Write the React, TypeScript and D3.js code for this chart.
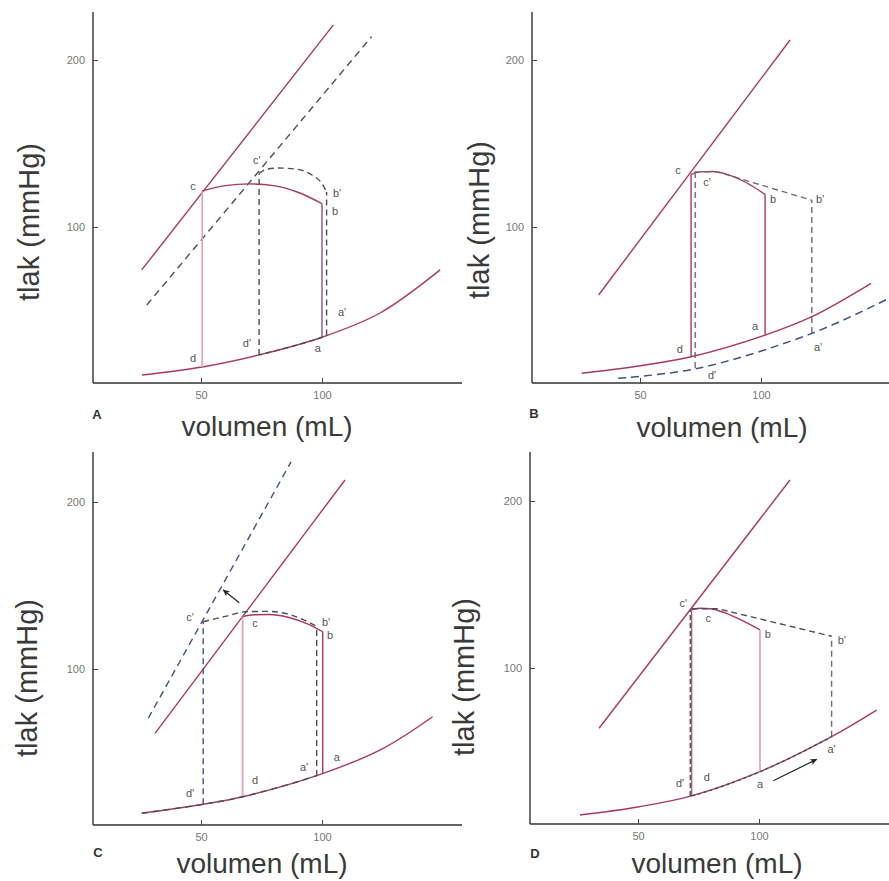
import React, { useEffect, useRef } from "react";
import * as d3 from "d3";

type Pt = [number, number];
type Lbl = [string, number, number];

const xTicks = [50, 100];
const yTicks = [100, 200];
const xTitle = "volumen (mL)";
const yTitle = "tlak (mmHg)";
const panelNames = ["A", "B", "C", "D"];

// ---- Panel A ----
const edpvrA: Pt[] = [[25.6, 11.4], [50.5, 16.2], [74, 23.4], [100, 34], [124, 48.5], [148.8, 74.3]];
const espvrA: Pt[] = [[25.5, 74.3], [104.7, 221]];
const espvrA2: Pt[] = [[27.6, 53.3], [120.5, 214]];
const isoDcA: Pt[] = [[50.5, 16.2], [50.5, 121.6]];
const ejectA: Pt[] = [[50.5, 121.6], [60, 124.8], [70, 125.8], [80, 124.8], [90, 120.8], [100, 114]];
const isoBaA: Pt[] = [[100, 34], [100, 114]];
const ejectA2: Pt[] = [[74, 132], [77, 134.5], [82, 135.3], [90, 134.5], [96, 131], [100, 126], [101.9, 121]];
const isoDcA2: Pt[] = [[74, 23.4], [74, 132]];
const isoBaA2: Pt[] = [[101.9, 35], [101.9, 121]];
const labelsA: Lbl[] = [["c", 46.7, 124.6], ["c'", 73.1, 140.1], ["b'", 106.2, 120.4], ["b", 105.4, 109.6], ["a'", 108.3, 49.1], ["a", 98.3, 27.5], ["d'", 69, 30.5], ["d", 46.7, 21.6]];

// ---- Panel B ----
const edpvrB: Pt[] = [[25.9, 12.4], [48, 16.5], [71.1, 22.3], [101.7, 35.3], [121, 46.3], [145.5, 66.3]];
const espvrB: Pt[] = [[32.9, 59.3], [112, 212]];
const edpvrB2: Pt[] = [[41, 9.4], [74.1, 15.4], [121, 36.3], [152.9, 57.3]];
const isoDcB: Pt[] = [[71.1, 22.3], [71.1, 131.5]];
const ejectB: Pt[] = [[71.1, 131.5], [75, 133], [80, 133.2], [86, 131.5], [94, 126.5], [101.7, 119.5]];
const isoBaB: Pt[] = [[101.7, 35.3], [101.7, 119.5]];
const ejectB2: Pt[] = [[72.5, 133], [82, 133], [121, 116]];
const isoDcB2: Pt[] = [[72.8, 15.5], [72.8, 133]];
const isoBaB2: Pt[] = [[121, 36.5], [121, 116]];
const labelsB: Lbl[] = [["c", 65.7, 134.1], ["c'", 77.7, 127], ["b", 105, 116.8], ["b'", 124.4, 116.8], ["a", 97.5, 40.7], ["a'", 123.6, 28.1], ["d", 66.5, 26.9], ["d'", 79.8, 11.4]];

// ---- Panel C ----
const edpvrC: Pt[] = [[25.5, 13.6], [50.9, 19], [67.2, 23.5], [100.5, 37.5], [125.3, 52.5], [145.7, 71.4]];
const espvrC: Pt[] = [[31, 61.5], [109.5, 213.2]];
const espvrC2: Pt[] = [[28.2, 70.5], [87.2, 224]];
const isoDcC: Pt[] = [[67.2, 23.5], [67.2, 131.4]];
const ejectC: Pt[] = [[67.2, 131.4], [72, 132.5], [78, 132.6], [86, 131], [94, 127], [100.3, 122.3]];
const isoBaC: Pt[] = [[100.3, 37.5], [100.3, 122.3]];
const ejectC2: Pt[] = [[50.9, 128.3], [60, 131.5], [68.6, 134.3], [78, 134.5], [88, 132], [97.8, 125.5]];
const isoDcC2: Pt[] = [[50.9, 19], [50.9, 128.3]];
const isoBaC2: Pt[] = [[97.8, 36], [97.8, 125.5]];
const arrowC: Pt[] = [[65.8, 139.7], [59.2, 147.3]];
const labelsC: Lbl[] = [["c'", 45.5, 131.3], ["c", 72.3, 127.5], ["b'", 101.7, 128.3], ["b", 103.3, 120.4], ["a", 106.1, 47.5], ["a'", 92.6, 41.5], ["d", 72.3, 33.5], ["d'", 45.5, 25.6]];

// ---- Panel D ----
const edpvrD: Pt[] = [[26, 12], [50, 16.8], [72.2, 23.4], [100.4, 37.9], [130, 58.9], [148.6, 74.8]];
const espvrD: Pt[] = [[33.9, 63.9], [112.8, 212.6]];
const isoDcD: Pt[] = [[72.2, 23.4], [72.2, 135]];
const ejectD: Pt[] = [[72.2, 135], [76, 135.8], [80, 135.5], [86, 133], [93, 128.5], [100.4, 122.8]];
const isoBaD: Pt[] = [[100.4, 37.9], [100.4, 122.8]];
const ejectD2: Pt[] = [[72.2, 135.5], [83, 135.5], [130, 119]];
const isoDcD2: Pt[] = [[71.6, 23.4], [71.6, 135]];
const isoBaD2: Pt[] = [[130, 58.9], [130, 119]];
const arrowD: Pt[] = [[105.9, 32.5], [123.8, 45.3]];
const labelsD: Lbl[] = [["c'", 68.7, 139.1], ["c", 79, 129.8], ["b", 103.6, 120.4], ["b'", 134.2, 116.8], ["a'", 130, 51.3], ["a", 100.4, 30.5], ["d", 78.4, 34.6], ["d'", 67.4, 31]];

// ---- styles ----
const FONT = "'Liberation Sans', Arial, Helvetica, sans-serif";
const CRIMSON = "#a83a5e";
const PALE = "#dcaaba";
const PURPLE = "#a27aa8";
const DASH = "#4a4e5a";
const DASHBLUE = "#3f5283";
const LIGHTDASH = "#6d6d72";

type CurveKind = "lin" | "mono" | "smooth";

type Layer = {
  pts: Pt[];
  color: string;
  w?: number;
  dash?: string;
  curve?: CurveKind;
  clip?: [number, number];
  arrow?: boolean;
};

type Panel = {
  name: string;
  ox: number;
  oy: number;
  xEnd: number;
  yTop: number;
  yTitleX: number;
  yTitleY: number;
  xTitleX: number;
  xTitleY: number;
  letterX: number;
  letterY: number;
  layers: Layer[];
  labels: Lbl[];
};

const panels: Panel[] = [
  {
    name: panelNames[0], ox: 93, oy: 383, xEnd: 369, yTop: -371,
    yTitleX: 39, yTitleY: 222, xTitleX: 267, xTitleY: 436, letterX: 97, letterY: 419,
    layers: [
      { pts: edpvrA, color: CRIMSON, curve: "smooth" },
      { pts: espvrA, color: CRIMSON },
      { pts: espvrA2, color: DASH, dash: "7,5" },
      { pts: isoDcA, color: PALE, w: 1.8 },
      { pts: ejectA, color: CRIMSON, curve: "mono" },
      { pts: isoBaA, color: PURPLE, w: 1.8 },
      { pts: ejectA2, color: DASH, dash: "6,4", curve: "mono" },
      { pts: isoDcA2, color: DASH, dash: "6,4" },
      { pts: isoBaA2, color: DASH, dash: "6,4" },
      { pts: edpvrA, color: DASH, dash: "5,4", curve: "smooth", clip: [74, 101.9] },
    ],
    labels: labelsA,
  },
  {
    name: panelNames[1], ox: 532, oy: 383, xEnd: 357, yTop: -371,
    yTitleX: 489, yTitleY: 220, xTitleX: 722, xTitleY: 437, letterX: 534, letterY: 418,
    layers: [
      { pts: edpvrB, color: CRIMSON, curve: "smooth" },
      { pts: espvrB, color: CRIMSON },
      { pts: edpvrB2, color: DASHBLUE, dash: "8,5", curve: "smooth", w: 1.5 },
      { pts: isoDcB, color: CRIMSON },
      { pts: ejectB, color: CRIMSON, curve: "mono" },
      { pts: isoBaB, color: CRIMSON },
      { pts: ejectB2, color: LIGHTDASH, dash: "6,4" },
      { pts: isoDcB2, color: LIGHTDASH, dash: "6,4" },
      { pts: isoBaB2, color: LIGHTDASH, dash: "6,4" },
    ],
    labels: labelsB,
  },
  {
    name: panelNames[2], ox: 93, oy: 825, xEnd: 369, yTop: -373,
    yTitleX: 37, yTitleY: 678, xTitleX: 262, xTitleY: 873, letterX: 98, letterY: 857,
    layers: [
      { pts: edpvrC, color: CRIMSON, curve: "smooth" },
      { pts: espvrC, color: CRIMSON },
      { pts: espvrC2, color: DASHBLUE, dash: "7,5" },
      { pts: isoDcC, color: PALE, w: 1.8 },
      { pts: ejectC, color: CRIMSON, curve: "mono" },
      { pts: isoBaC, color: CRIMSON },
      { pts: ejectC2, color: DASH, dash: "6,4", curve: "mono" },
      { pts: isoDcC2, color: DASHBLUE, dash: "6,4" },
      { pts: isoBaC2, color: DASH, dash: "6,4" },
      { pts: edpvrC, color: DASH, dash: "6,5", curve: "smooth", clip: [25.5, 98] },
      { pts: arrowC, color: "#222", w: 1.2, arrow: true },
    ],
    labels: labelsC,
  },
  {
    name: panelNames[3], ox: 530, oy: 824, xEnd: 359, yTop: -372,
    yTitleX: 474, yTitleY: 677, xTitleX: 717, xTitleY: 873, letterX: 535, letterY: 858,
    layers: [
      { pts: edpvrD, color: CRIMSON, curve: "smooth" },
      { pts: espvrD, color: CRIMSON },
      { pts: isoDcD, color: CRIMSON, w: 1.1 },
      { pts: ejectD, color: CRIMSON, curve: "mono" },
      { pts: isoBaD, color: PALE, w: 1.8 },
      { pts: ejectD2, color: DASH, dash: "6,4" },
      { pts: isoDcD2, color: DASH, dash: "5,3" },
      { pts: isoBaD2, color: LIGHTDASH, dash: "6,4" },
      { pts: edpvrD, color: DASH, dash: "3,3", curve: "smooth", clip: [72.2, 130] },
      { pts: arrowD, color: "#222", w: 1.2, arrow: true },
    ],
    labels: labelsD,
  },
];

export default function App() {
  const ref = useRef<SVGSVGElement>(null);

  useEffect(() => {
    const svg = d3.select(ref.current);
    svg.selectAll("*").remove();

    const defs = svg.append("defs");
    defs
      .append("marker")
      .attr("id", "arrowhead")
      .attr("viewBox", "0 0 10 10")
      .attr("refX", 9)
      .attr("refY", 5)
      .attr("markerWidth", 7)
      .attr("markerHeight", 7)
      .attr("markerUnits", "userSpaceOnUse")
      .attr("orient", "auto")
      .append("path")
      .attr("d", "M0,0.5 L10,5 L0,9.5 L2.5,5 Z")
      .attr("fill", "#222");

    const x = d3.scaleLinear().domain([0, 100]).range([-13, 229]);
    const y = d3.scaleLinear().domain([0, 200]).range([11, -323]);

    svg.append("rect").attr("width", 889).attr("height", 881).attr("fill", "#fff");

    const curveOf = (k?: CurveKind) =>
      k === "smooth" ? d3.curveCatmullRom.alpha(0.5) : k === "mono" ? d3.curveMonotoneX : d3.curveLinear;

    panels.forEach((p, pi) => {
      const g = svg.append("g").attr("transform", `translate(${p.ox},${p.oy})`);

      // axes
      g.append("line").attr("x1", 0).attr("x2", p.xEnd).attr("y1", 0).attr("y2", 0)
        .attr("stroke", "#333").attr("stroke-width", 1.4);
      g.append("line").attr("x1", 0).attr("x2", 0).attr("y1", 0).attr("y2", p.yTop)
        .attr("stroke", "#333").attr("stroke-width", 1.4);

      const xa = g.append("g").call(
        d3.axisBottom(x).tickValues(xTicks).tickSizeInner(-5).tickSizeOuter(0).tickPadding(8)
      );
      const ya = g.append("g").call(
        d3.axisLeft(y).tickValues(yTicks).tickSizeInner(-5).tickSizeOuter(0).tickPadding(8)
      );
      [xa, ya].forEach((a) => {
        a.select(".domain").remove();
        a.selectAll("line").attr("stroke", "#444").attr("stroke-width", 1);
        a.selectAll("text").attr("fill", "#777").attr("font-size", 11).attr("font-family", FONT);
      });

      p.layers.forEach((L, li) => {
        const line = d3.line<Pt>()
          .x((d) => x(d[0]))
          .y((d) => y(d[1]))
          .curve(curveOf(L.curve));
        let clipId: string | null = null;
        if (L.clip) {
          clipId = `clip-${pi}-${li}`;
          defs.append("clipPath").attr("id", clipId)
            .append("rect")
            .attr("x", x(L.clip[0]))
            .attr("width", x(L.clip[1]) - x(L.clip[0]))
            .attr("y", -400)
            .attr("height", 420);
        }
        const path = g.append("path")
          .attr("d", line(L.pts) || "")
          .attr("fill", "none")
          .attr("stroke", L.color)
          .attr("stroke-width", L.w ?? 1.4)
          .attr("stroke-linecap", "butt");
        if (L.dash) path.attr("stroke-dasharray", L.dash);
        if (clipId) path.attr("clip-path", `url(#${clipId})`);
        if (L.arrow) path.attr("marker-end", "url(#arrowhead)");
      });

      // point labels
      g.selectAll("text.pl")
        .data(p.labels)
        .enter()
        .append("text")
        .attr("class", "pl")
        .attr("x", (d) => x(d[1]))
        .attr("y", (d) => y(d[2]))
        .attr("dy", "0.35em")
        .attr("text-anchor", "middle")
        .attr("font-family", FONT)
        .attr("font-size", 11)
        .attr("fill", "#555")
        .text((d) => d[0]);

      // titles
      svg.append("text")
        .attr("transform", `translate(${p.yTitleX},${p.yTitleY}) rotate(-90)`)
        .attr("text-anchor", "middle")
        .attr("font-family", FONT)
        .attr("font-size", 29)
        .attr("fill", "#3a3a3a")
        .text(yTitle);
      svg.append("text")
        .attr("x", p.xTitleX)
        .attr("y", p.xTitleY)
        .attr("text-anchor", "middle")
        .attr("font-family", FONT)
        .attr("font-size", 28)
        .attr("fill", "#3a3a3a")
        .text(xTitle);
      svg.append("text")
        .attr("x", p.letterX)
        .attr("y", p.letterY)
        .attr("text-anchor", "middle")
        .attr("font-family", FONT)
        .attr("font-size", 13)
        .attr("font-weight", "bold")
        .attr("fill", "#333")
        .text(p.name);
    });
  }, []);

  return (
    <svg
      ref={ref}
      width={889}
      height={881}
      style={{ position: "absolute", left: 0, top: 0, display: "block" }}
    />
  );
}
